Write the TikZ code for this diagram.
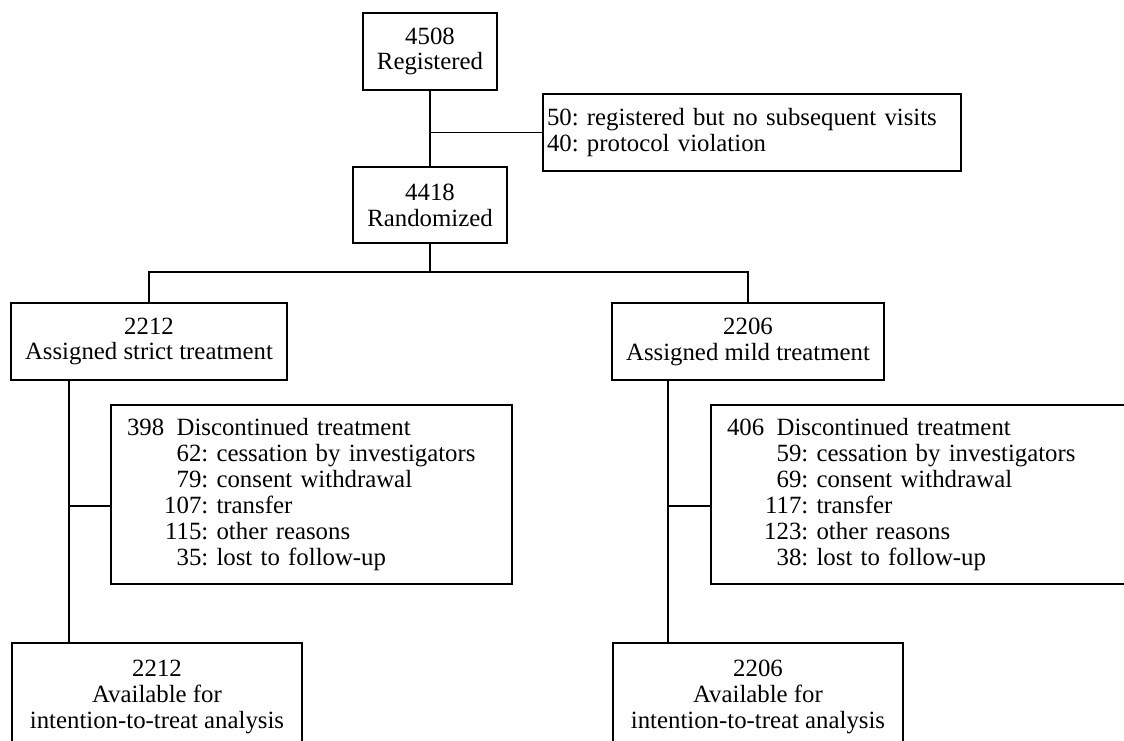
\documentclass[tikz,border=0pt]{standalone}
\usepackage{fontspec}
\setmainfont{Liberation Serif}
\usepackage{tikz}
\usetikzlibrary{positioning}
\frenchspacing

\newcommand{\rsn}[2]{\makebox[3em][r]{#1}: #2}

\begin{document}
\begin{tikzpicture}[x=0.75pt, y=-0.75pt, line width=1.4pt,
      bx/.style={draw, line width=1.4pt, inner sep=0pt, align=center, font=\fontsize{18.6}{19.4}\selectfont},
      lb/.style={bx, align=left, inner xsep=3pt},
      db/.style={bx, align=left, inner xsep=12pt, minimum height=134.25pt}]
    \useasboundingbox (0,0) rectangle (1124,741);
    \clip (0,0) rectangle (1124,741);
    % enrolment
    \node[bx, minimum width=100.5pt, minimum height=57.75pt] (reg) at (430, 51.5) {4508\\Registered};
    \node[lb, text width=307.5pt, minimum height=57.75pt] (excl) at (752, 132.5)
      {50: registered but no subsequent visits\\40: protocol violation};
    \node[bx, minimum width=115.5pt, minimum height=57pt] (rand) at (430, 205) {4418\\Randomized};
    % arms
    \node[bx, minimum width=207pt, minimum height=57.75pt] (strict) at (149, 341.5) {2212\\Assigned strict treatment};
    \node[bx, minimum width=204pt, minimum height=57.75pt] (mild) at (748, 341.5) {2206\\Assigned mild treatment};
    % discontinued
    \node[db, text width=276.75pt] (discS) at (311.5, 494.5)
      {\makebox[2em][l]{398}Discontinued treatment\\\rsn{62}{cessation by investigators}\\\rsn{79}{consent withdrawal}\\\rsn{107}{transfer}\\\rsn{115}{other reasons}\\\rsn{35}{lost to follow-up}};
    \node[db, text width=291pt] (discM) at (921, 494.5)
      {\makebox[2em][l]{406}Discontinued treatment\\\rsn{59}{cessation by investigators}\\\rsn{69}{consent withdrawal}\\\rsn{117}{transfer}\\\rsn{123}{other reasons}\\\rsn{38}{lost to follow-up}};
    % analysed
    \node[bx, minimum width=217.5pt, minimum height=81pt] (availS) at (157, 697)
      {2212\\Available for\\intention-to-treat analysis};
    \node[bx, minimum width=217.5pt, minimum height=81pt] (availM) at (758, 697)
      {2206\\Available for\\intention-to-treat analysis};
    % connectors
    \draw (reg) -- (rand);
    \draw (reg.south |- excl.west) -- (excl.west);
    \coordinate (br) at (430, 272);
    \draw (rand.south) -- (br);
    \draw (strict.north) |- (br) -| (mild.north);
    \coordinate (sd) at (69, 380);
    \coordinate (sj) at (69, 506);
    \draw (sd) -- (sd |- availS.north);
    \draw (sj) -- (sj -| discS.west);
    \coordinate (md) at (668, 380);
    \coordinate (mj) at (668, 506);
    \draw (md) -- (md |- availM.north);
    \draw (mj) -- (mj -| discM.west);
\end{tikzpicture}
\end{document}
